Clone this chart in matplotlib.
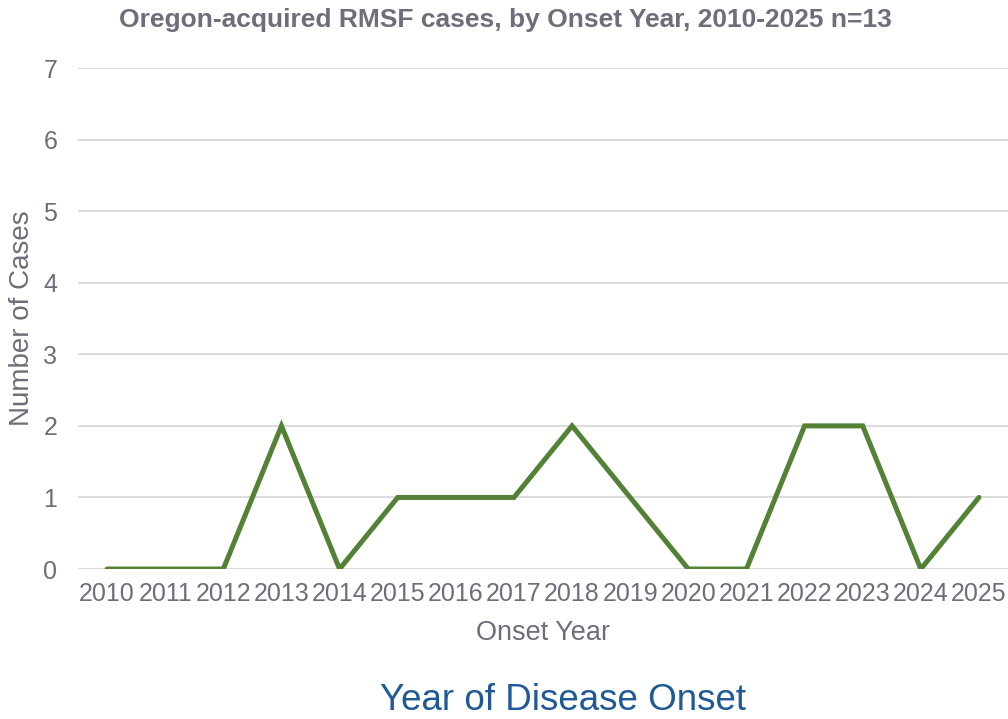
import matplotlib
matplotlib.use('Agg')
import matplotlib.pyplot as plt

years = ['2010', '2011', '2012', '2013', '2014', '2015', '2016', '2017',
         '2018', '2019', '2020', '2021', '2022', '2023', '2024', '2025']
cases = [0, 0, 0, 2, 0, 1, 1, 1, 2, 1, 0, 0, 2, 2, 0, 1]

title = 'Oregon-acquired RMSF cases, by Onset Year, 2010-2025 n=13'
grey = '#716C7A'
green = '#538135'
blue = '#1F5A96'

plt.rcParams['font.family'] = ['Liberation Sans', 'DejaVu Sans']

fig = plt.figure(figsize=(10.08, 7.19), dpi=100)
ax = fig.add_axes([0.0774, 0.2086, 0.9226, 0.6968])

x = list(range(len(years)))
ax.plot(x, cases, color=green, linewidth=3.6, solid_joinstyle='miter',
        solid_capstyle='round', zorder=3)

ax.set_xlim(-0.5, len(years) - 0.5)
ax.set_ylim(0, 7)
ax.set_yticks(range(0, 8))
ax.set_xticks(x)
ax.set_xticklabels(years)
ax.yaxis.grid(True, color='#D9D9D9', linewidth=1.3)
ax.set_axisbelow(True)
for s in ax.spines.values():
    s.set_visible(False)
ax.tick_params(axis='both', length=0, labelsize=18, colors=grey)
ax.tick_params(axis='x', pad=9)
ax.tick_params(axis='y', pad=15)

# axis titles placed in figure pixels as in the reference
fig.text(22 / 1008, 1 - 318 / 719, 'Number of Cases', rotation=90,
         ha='center', va='center', fontsize=20, color=grey)
fig.text(543 / 1008, 1 - 633 / 719, 'Onset Year', ha='center', va='center',
         fontsize=19.5, color=grey)

fig.text(0.501, 0.972, title, ha='center', va='center', fontsize=19,
         fontweight='bold', color=grey)
fig.text(563 / 1008, 1 - 700 / 719, 'Year of Disease Onset', ha='center',
         va='center', fontsize=26.5, color=blue)

fig.savefig('out.png', dpi=100)
